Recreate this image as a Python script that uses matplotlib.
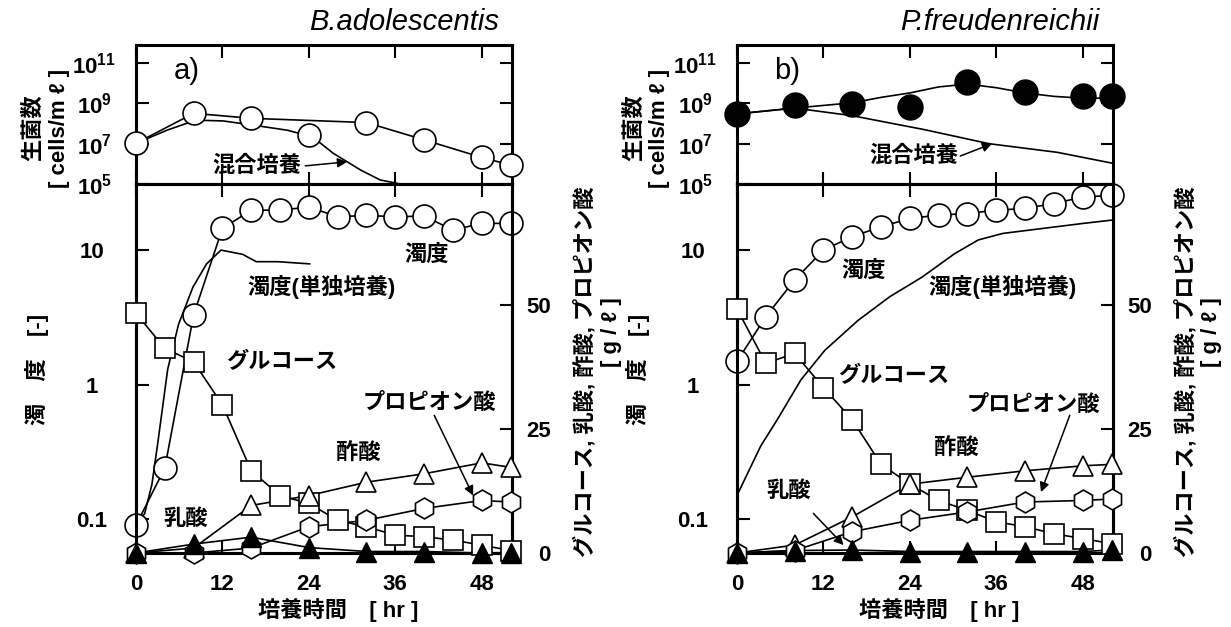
import numpy as np
import matplotlib.pyplot as plt

plt.rcParams['font.family'] = ['Liberation Sans', 'Noto Sans CJK JP', 'DejaVu Sans']
plt.rcParams['font.weight'] = 'bold'
plt.rcParams['mathtext.fontset'] = 'custom'
plt.rcParams['mathtext.rm'] = 'Liberation Sans:bold'
plt.rcParams['mathtext.it'] = 'Liberation Sans:bold'
plt.rcParams['mathtext.bf'] = 'Liberation Sans:bold'

# sampling times [hr]
t_cell = [0, 8, 16, 24, 32, 40, 48, 52]
t_od = [0, 4, 8, 12, 16, 20, 24, 28, 32, 36, 40, 44, 48, 52]
t_acid = [0, 8, 16, 24, 32, 40, 48, 52]

# a) B.adolescentis
a_cells = [7.02, 8.51, 8.26, 7.43, 8.05, 7.19, 6.32, 5.94]          # log10 cells/ml
a_fit_t = [0, 8, 16, 32, 40, 48, 52]
a_fit = [7.02, 8.51, 8.26, 8.05, 7.19, 6.32, 5.94]
a_mix_t = [0, 4.3, 8.3, 12.1, 16.3, 21, 24.5, 27.4, 31.2, 33.9, 36.3]
a_mix = [7.02, 7.67, 8.17, 8.13, 7.92, 7.67, 7.34, 6.52, 5.69, 5.2, 5.03]
a_od = [0.09, 0.24, 3.3, 14.5, 19.8, 19.8, 20.9, 17.7, 18.1, 17.7, 17.9, 14.1, 15.8, 15.8]
a_single_t = [0, 1.2, 2.2, 3.0, 4.4, 5.9, 7.9, 9.8, 11.8, 14.8, 16.7, 19.7, 24.1]
a_single = [0.09, 0.11, 0.18, 0.36, 1.3, 2.8, 5.3, 7.9, 10, 9.3, 8.2, 8.2, 7.9]
a_glc = [48.4, 41.3, 38.6, 29.9, 16.6, 11.6, 10.0, 6.6, 5.3, 3.6, 3.3, 2.6, 1.6, 0.5]
a_ace = [0, 1.0, 9.6, 11.6, 14.3, 16.0, 18.2, 17.3]
a_pro = [0, 0, 1.0, 5.3, 6.6, 9.0, 10.6, 10.3]
a_lac = [0, 1.8, 3.2, 1.1, 0.3, 0.3, 0, 0.1]

# b) P.freudenreichii
b_cells = [8.48, 8.91, 8.95, 8.83, 10.04, 9.56, 9.35, 9.35]
b_fit_t = [0, 8, 16, 20, 24, 28, 32, 36, 40, 44, 48, 52]
b_fit = [8.48, 8.77, 9.03, 9.3, 9.52, 9.82, 9.96, 9.78, 9.52, 9.35, 9.26, 9.26]
b_mix_t = [0, 8, 16, 26, 35, 44.5, 52]
b_mix = [8.48, 8.77, 8.39, 7.7, 7.0, 6.57, 6.04]
b_od = [1.49, 3.2, 6.0, 10, 12.6, 14.9, 17.2, 18.2, 18.7, 19.8, 20.4, 22.2, 24.8, 25.5]
b_single_t = [0, 3.3, 5.6, 8.9, 12.2, 16.8, 21.2, 25.7, 30.2, 33.5, 36.9, 42.5, 48.1, 52]
b_single = [0.15, 0.35, 0.55, 1.09, 1.8, 3.0, 4.5, 6.3, 9.4, 11.9, 13.3, 14.5, 15.8, 16.7]
b_glc = [49.3, 38.3, 40.3, 33.4, 26.9, 17.9, 13.9, 10.6, 8.6, 6.3, 5.3, 3.9, 2.9, 1.9]
b_ace = [0, 1.6, 7.3, 13.9, 15.3, 16.6, 17.6, 17.9]
b_pro = [0, 0.5, 4.3, 6.6, 8.3, 10.3, 10.6, 10.9]
b_lac = [0, 0.5, 0.6, 0.3, 0.3, 0.3, 0.3, 0.6]

W, H = 1231, 627
fig = plt.figure(figsize=(W / 100, H / 100), dpi=100)


def box(l, t, r, b):
    return [l / W, 1 - b / H, (r - l) / W, (b - t) / H]


LW = 1.2
SP = 2.2
open_kw = dict(mfc='white', mec='black', mew=1.2, ls='none', clip_on=False, zorder=4)


def panel(l, title, tag, cells, fit_t, fit, mix_t, mix, filled, od, single_t, single, glc, ace, pro, lac):
    r = l + 376
    top = fig.add_axes(box(l, 45, r, 184))
    bot = fig.add_axes(box(l, 184, r, 553))
    rt = bot.twinx()

    # viable cell count
    top.set_yscale('log')
    top.plot(fit_t, 10 ** np.array(fit), color='black', lw=LW)
    top.plot(mix_t, 10 ** np.array(mix), color='black', lw=LW)
    if filled:
        top.plot(t_cell, 10 ** np.array(cells), 'o', ms=18, mfc='black', mec='black',
                 ls='none', clip_on=False, zorder=4)
    else:
        top.plot(t_cell, 10 ** np.array(cells), 'o', ms=16.5, **open_kw)
    top.set_ylim(1e5, 10 ** 11.9)
    top.set_yticks([1e5, 1e7, 1e9, 1e11])
    top.set_yticklabels(['$10^{5}$', '$10^{7}$', '$10^{9}$', '$10^{11}$'])
    top.minorticks_off()

    # turbidity (left, log)
    bot.set_yscale('log')
    bot.plot(single_t, single, color='black', lw=LW)
    bot.plot(t_od, od, color='black', lw=LW)
    bot.plot(t_od, od, 'o', ms=16.5, **open_kw)
    bot.set_ylim(0.056, 31)
    bot.set_yticks([0.1, 1, 10])
    bot.set_yticklabels(['0.1', '1', '10'])
    bot.minorticks_off()

    # glucose and acids (right, linear)
    for t, v in [(t_od, glc), (t_acid, ace), (t_acid, pro), (t_acid, lac)]:
        rt.plot(t, v, color='black', lw=LW, zorder=2)
    rt.plot(t_od, glc, 's', ms=15, **open_kw)
    rt.plot(t_acid, ace, '^', ms=15, **open_kw)
    rt.plot(t_acid, pro, 'h', ms=15, **open_kw)
    rt.plot(t_acid, lac, '^', ms=14, mfc='black', mec='black', ls='none', clip_on=False, zorder=5)
    rt.set_ylim(0, 74.5)
    rt.set_yticks([0, 25, 50])

    for ax in (top, bot, rt):
        ax.set_xlim(0, 52.2)
        ax.set_xticks([0, 12, 24, 36, 48])
        for s in ax.spines.values():
            s.set_linewidth(SP)
        ax.tick_params(direction='in', length=9, width=1.5, labelsize=16)
    top.tick_params(top=True, bottom=True, right=True, labelbottom=False, pad=30)
    for lab in top.get_yticklabels():
        lab.set_horizontalalignment('center')
    bot.tick_params(axis='x', top=True, bottom=True, pad=15)
    bot.tick_params(axis='y', left=True, right=False, pad=32)
    for lab in bot.get_yticklabels():
        lab.set_horizontalalignment('center')
    rt.tick_params(axis='y', right=True, pad=28)
    for lab in rt.get_yticklabels():
        lab.set_horizontalalignment('right')

    top.text(0.965, 1.165, title, transform=top.transAxes, ha='right', va='center',
             fontsize=21, style='italic', weight='normal')
    top.text(7, 10 ** 10.6, tag, ha='center', va='center', fontsize=21, weight='normal')

    # axis titles
    dx = l - 136
    fig.text((34 + dx) / W, 1 - 128 / H, '生菌数', rotation=90, ha='center', va='center', fontsize=16)
    fig.text((59 + dx) / W, 1 - 128 / H, '[ cells/m ℓ ]', rotation=90, ha='center', va='center', fontsize=16)
    fig.text((37 + dx) / W, 1 - 369 / H, '濁　度　[-]', rotation=90, ha='center', va='center', fontsize=16)
    fig.text((585 + dx) / W, 1 - 372 / H, 'グルコース, 乳酸, 酢酸, プロピオン酸', rotation=90,
             ha='center', va='center', fontsize=16)
    fig.text((611 + dx) / W, 1 - 332 / H, '[ g / ℓ ]', rotation=90, ha='center', va='center', fontsize=16)
    fig.text((338 + dx) / W, 1 - 610 / H, '培養時間　[ hr ]', ha='center', va='center', fontsize=16)
    return top, bot, rt


arrow = dict(arrowstyle='-|>', color='black', lw=1.1, mutation_scale=14, shrinkA=0, shrinkB=0)
fs = 16

# panel a
top, bot, rt = panel(136, 'B.adolescentis', 'a)', a_cells, a_fit_t, a_fit, a_mix_t, a_mix, False,
                     a_od, a_single_t, a_single, a_glc, a_ace, a_pro, a_lac)
top.text(16.8, 10 ** 5.86, '混合培養', ha='center', va='center', fontsize=fs)
top.annotate('', xy=(29.3, 10 ** 6.1), xytext=(23.5, 10 ** 5.9), arrowprops=arrow)
bot.text(40.4, 9.2, '濁度', ha='center', va='center', fontsize=fs)
bot.text(25.8, 5.35, '濁度(単独培養)', ha='center', va='center', fontsize=fs)
bot.text(20.3, 1.45, 'グルコース', ha='center', va='center', fontsize=fs)
bot.text(6.9, 0.1, '乳酸', ha='center', va='center', fontsize=fs)
rt.text(40.7, 30.2, 'プロピオン酸', ha='center', va='center', fontsize=fs)
rt.annotate('', xy=(46.8, 11.6), xytext=(41.4, 27.8), arrowprops=arrow)
rt.text(30.9, 19.9, '酢酸', ha='center', va='center', fontsize=fs)

# panel b
top, bot, rt = panel(737, 'P.freudenreichii', 'b)', b_cells, b_fit_t, b_fit, b_mix_t, b_mix, True,
                     b_od, b_single_t, b_single, b_glc, b_ace, b_pro, b_lac)
top.text(24.5, 10 ** 6.39, '混合培養', ha='center', va='center', fontsize=fs)
top.annotate('', xy=(35.4, 10 ** 7.0), xytext=(31.0, 10 ** 6.39), arrowprops=arrow)
bot.text(17.6, 6.9, '濁度', ha='center', va='center', fontsize=fs)
bot.text(36.9, 5.35, '濁度(単独培養)', ha='center', va='center', fontsize=fs)
bot.text(21.8, 1.15, 'グルコース', ha='center', va='center', fontsize=fs)
bot.text(7.2, 0.16, '乳酸', ha='center', va='center', fontsize=fs)
rt.annotate('', xy=(14.8, 1.6), xytext=(10.6, 8.0), arrowprops=arrow)
rt.text(41.1, 29.9, 'プロピオン酸', ha='center', va='center', fontsize=fs)
rt.annotate('', xy=(42.2, 12.3), xytext=(46.2, 27.8), arrowprops=arrow)
rt.text(30.5, 20.9, '酢酸', ha='center', va='center', fontsize=fs)

fig.savefig('out.png', dpi=100)
